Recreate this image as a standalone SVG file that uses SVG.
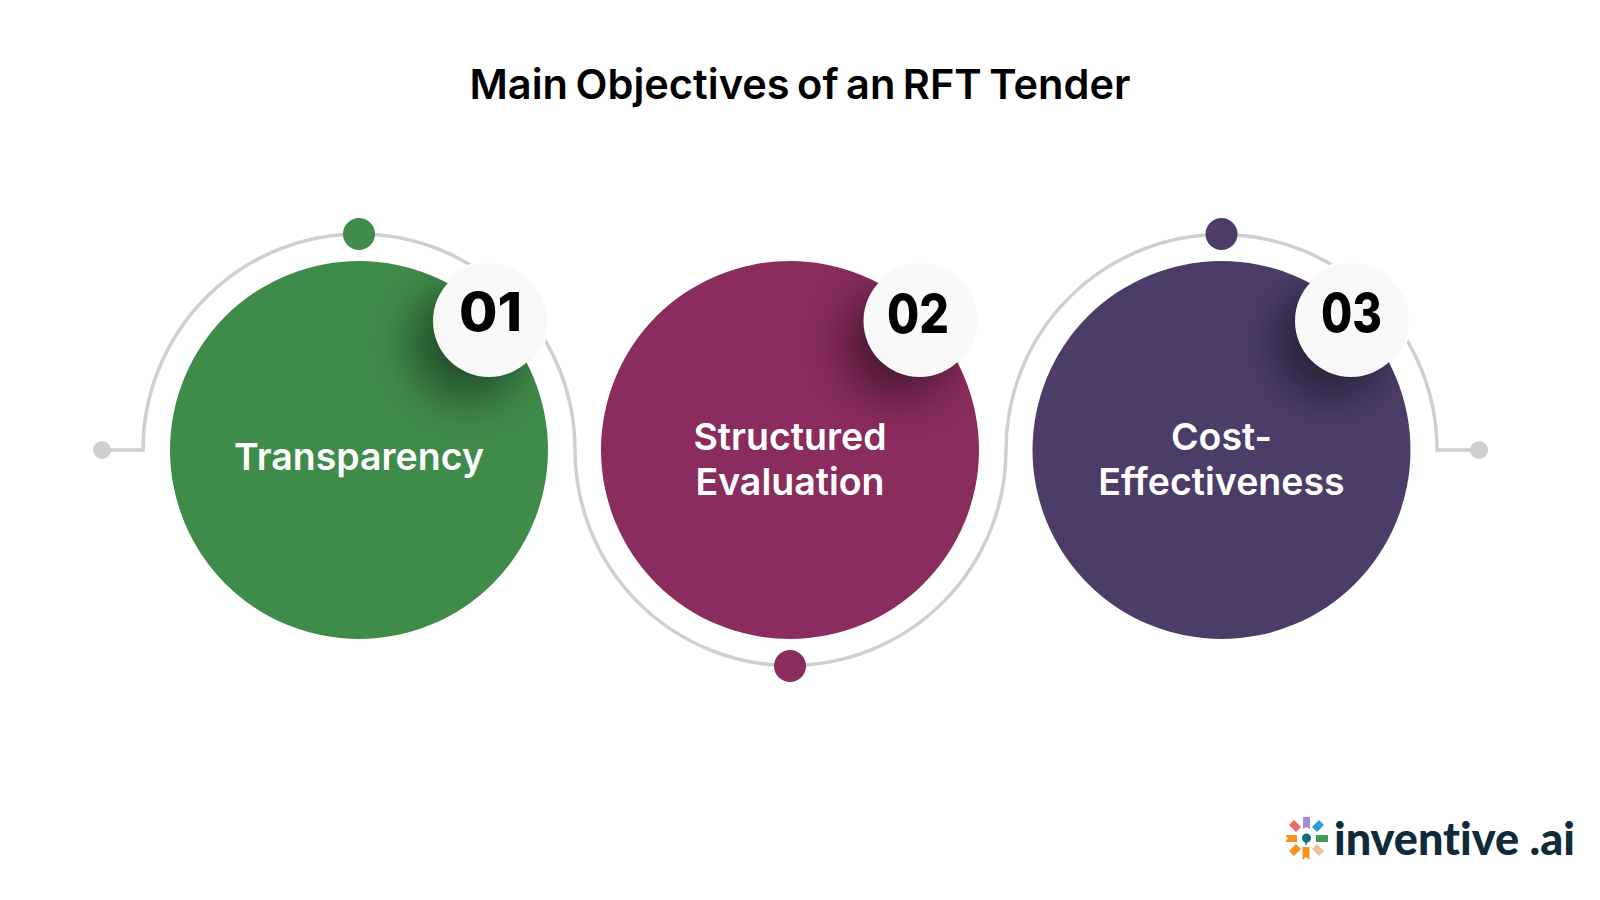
<svg xmlns="http://www.w3.org/2000/svg" width="1600" height="900" viewBox="0 0 1600 900">
<style>
.arc{fill:none;stroke:#cfcfcf;stroke-width:3.5}
.end{fill:#cfcfcf}
.gap{fill:#fff}
.lab{font-family:"Inter","Liberation Sans",sans-serif;font-weight:600;font-size:37.500px;fill:#fff;text-anchor:middle}
.num{font-family:"Inter","Liberation Sans",sans-serif;font-weight:800;font-size:54px;fill:#000}
.badge{fill:#f9f9f9;filter:url(#soft)}
.sh{fill:#000;opacity:.44;filter:url(#blur)}
</style>
<defs>
<filter id="blur" x="-80%" y="-80%" width="260%" height="260%"><feGaussianBlur stdDeviation="22"/></filter>
<filter id="soft" x="-20%" y="-20%" width="140%" height="140%"><feDropShadow dx="0" dy="0" stdDeviation="1.500" flood-color="#000" flood-opacity=".1"/></filter>
<clipPath id="c1"><circle cx="359" cy="450" r="189"/></clipPath>
<clipPath id="c2"><circle cx="790" cy="450" r="189"/></clipPath>
<clipPath id="c3"><circle cx="1221.500" cy="450" r="189"/></clipPath>
</defs>
<rect width="1600" height="900" fill="#fff"/>
<text id="title" x="800" y="98.500" text-anchor="middle" font-family="Inter,'Liberation Sans',sans-serif" font-weight="600" font-size="41" word-spacing="-3" fill="#000" textLength="661" lengthAdjust="spacingAndGlyphs">Main Objectives of an RFT Tender</text>
<g id="connectors">
<path class="arc" d="M102 450H143A216 216 0 0 1 575 450A215.500 215.500 0 0 0 1006 450A215.500 215.500 0 0 1 1437 450H1479"/>
<circle class="end" cx="102" cy="450" r="9"/>
<circle class="end" cx="1479" cy="450" r="9"/>
<circle cx="359" cy="234" r="16" fill="#3f8b4a"/>
<circle cx="790" cy="666" r="16" fill="#8a2c5d"/>
<circle cx="1221.500" cy="234" r="16" fill="#4c3d68"/>
<circle class="gap" cx="489" cy="321" r="60"/>
<circle class="gap" cx="1351" cy="321" r="60"/>
</g>
<g id="node1">
<circle cx="359" cy="450" r="189" fill="#3f8b4a"/>
<g clip-path="url(#c1)"><circle class="sh" cx="468" cy="343" r="56"/></g>
<circle class="badge" cx="489" cy="321" r="56"/>
<text class="num" x="459" y="331" textLength="63" lengthAdjust="spacingAndGlyphs">01</text>
<text class="lab" x="359" y="470">Transparency</text>
</g>
<g id="node2">
<circle cx="790" cy="450" r="189" fill="#8a2c5d"/>
<g clip-path="url(#c2)"><circle class="sh" cx="899" cy="343" r="56"/></g>
<circle class="badge" cx="919.500" cy="321" r="56"/>
<text class="num" x="887" y="333" textLength="62" lengthAdjust="spacingAndGlyphs">02</text>
<text class="lab" x="790" y="450">Structured</text>
<text class="lab" x="790" y="495">Evaluation</text>
</g>
<g id="node3">
<circle cx="1221.500" cy="450" r="189" fill="#4c3d68"/>
<g clip-path="url(#c3)"><circle class="sh" cx="1330" cy="343" r="56"/></g>
<circle class="badge" cx="1351" cy="321" r="56"/>
<text class="num" x="1321" y="332" textLength="61" lengthAdjust="spacingAndGlyphs">03</text>
<text class="lab" x="1221.500" y="450">Cost-</text>
<text class="lab" x="1221.500" y="495">Effectiveness</text>
</g>
<g id="logo">
<path d="M1303 817H1310V829L1306.500 827L1303 829Z" fill="#a78bd8"/>
<path d="M1316 835H1328V842H1316Z" fill="#3f9a5a"/>
<path d="M1285 835H1297V842H1285L1288 838.500Z" fill="#f7941d"/>
<path d="M1302.500 847H1309.500V860L1306 857L1302.500 860Z" fill="#f7941d"/>
<path d="M1289 825L1294 820L1301 827L1296 832Z" fill="#f0686e"/>
<path d="M1312 827L1319 820L1324 825L1317 832Z" fill="#2f9bd6"/>
<path d="M1289 851L1296 844L1301 849L1294 856Z" fill="#f7941d"/>
<path d="M1312 849L1317 844L1324 851L1319 856Z" fill="#eec0a0"/>
<circle cx="1306.500" cy="838" r="4.500" fill="#0f6e84"/>
<path d="M1304 840L1306 846L1308 840Z" fill="#0f6e84"/>
<text x="1334" y="855" font-family="Lato,'Open Sans',sans-serif" font-weight="900" font-size="46" style="font-variant-ligatures:none" fill="#0f2a3a" textLength="241" lengthAdjust="spacingAndGlyphs">inventive .ai</text>
</g>
</svg>
